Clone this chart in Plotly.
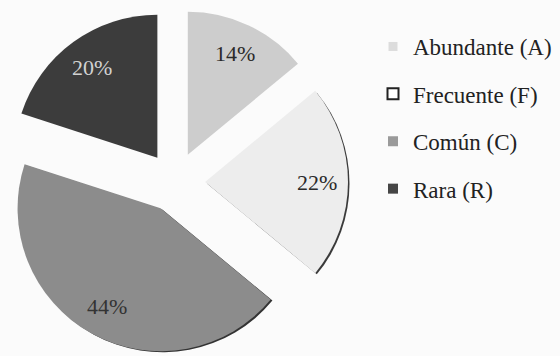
import math
import plotly.graph_objects as go

# Frequency classes and their share of the records (%)
categories = ["Abundante (A)", "Frecuente (F)", "Común (C)", "Rara (R)"]
shares = [14, 22, 44, 20]

slice_colors = ["#cdcdcd", "#ededed", "#8c8c8c", "#3c3c3c"]
label_colors = ["#2a2a2a", "#2a2a2a", "#333333", "#d2d2d2"]
shadow_colors = ["rgba(0,0,0,0)", "#3a3a3a", "#333333", "rgba(0,0,0,0)"]
legend_colors = ["#dcdcdc", "#ffffff", "#9a9a9a", "#454545"]
legend_lines = ["#d0d0d0", "#222222", "#8a8a8a", "#3a3a3a"]
legend_line_w = [0, 2, 0, 0]
legend_sizes = [9, 11, 10, 10]

W, H = 560, 356
bg = "#fbfbfb"
pull = 0.21
serif = "Liberation Serif"

# pie box in pixels: left, top, width, height
box = (2, 9, 346, 346)
radius = min(box[2], box[3]) / (2 * (1 + pull))
cx, cy = box[0] + box[2] / 2, box[1] + box[3] / 2


def dom(l, t, w, h):
    return dict(x=[l / W, (l + w) / W], y=[max(0.0, 1 - (t + h) / H), 1 - t / H])


fig = go.Figure()

# slight drop shadow under the lower slices
fig.add_trace(go.Pie(
    labels=categories, values=shares, sort=False, direction="clockwise", rotation=0,
    pull=[pull] * len(shares), textinfo="none", hoverinfo="skip", showlegend=False,
    marker=dict(colors=shadow_colors, line=dict(width=0)),
    domain=dom(box[0] + 2, box[1] + 2, box[2], H - box[1] - 2),
))

fig.add_trace(go.Pie(
    labels=categories, values=shares, sort=False, direction="clockwise", rotation=0,
    pull=[pull] * len(shares), textinfo="none",
    marker=dict(colors=slice_colors, line=dict(width=0)),
    showlegend=False,
    domain=dom(*box),
))

# percentage labels placed along each slice's middle angle
total = sum(shares)
start = 0.0
for v, col in zip(shares, label_colors):
    mid = math.radians((start + v / 2) / total * 360)
    start += v
    dist = radius * (pull + 0.78)
    px = cx + dist * math.sin(mid)
    py = cy - dist * math.cos(mid)
    fig.add_annotation(
        x=px / W, y=1 - py / H, xref="paper", yref="paper", showarrow=False,
        xanchor="center", yanchor="middle",
        text=f"{round(v / total * 100)}%",
        font=dict(family=serif, size=22, color=col),
    )

# legend entries
for i, name in enumerate(categories):
    fig.add_trace(go.Scatter(
        x=[None], y=[None], mode="markers", name=name, legendgroup=name,
        marker=dict(symbol="square", size=legend_sizes[i], color=legend_colors[i],
                    line=dict(color=legend_lines[i], width=legend_line_w[i])),
    ))

fig.update_layout(
    width=W, height=H,
    margin=dict(l=0, r=0, t=0, b=0),
    paper_bgcolor=bg, plot_bgcolor=bg,
    xaxis=dict(visible=False), yaxis=dict(visible=False),
    legend=dict(
        x=373 / W, xanchor="left", y=1 - 25 / H, yanchor="top",
        font=dict(family=serif, size=23, color="#222222"),
        traceorder="grouped", tracegroupgap=14.5,
        bgcolor="rgba(0,0,0,0)",
    ),
)

fig.write_html("out.html")
